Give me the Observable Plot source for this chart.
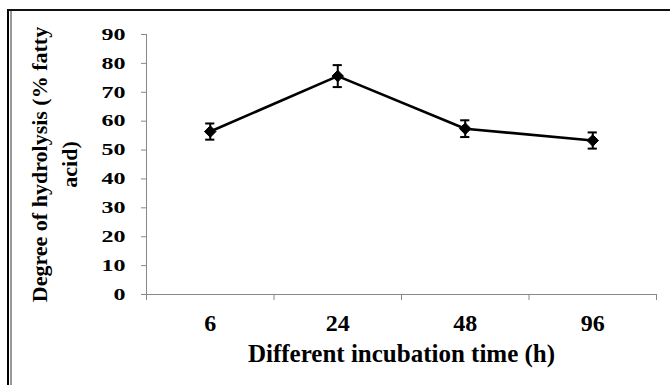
<!DOCTYPE html>
<html>
<head>
<meta charset="utf-8">
<script src="https://cdn.jsdelivr.net/npm/d3@7"></script>
<script src="https://cdn.jsdelivr.net/npm/@observablehq/plot@0.6"></script>
<style>
  html, body { margin: 0; padding: 0; background: #fff; width: 670px; height: 385px; overflow: hidden; }
  #wrap { position: relative; width: 670px; height: 385px; }
  #frameOuter { position: absolute; left: 7px; top: 9px; width: 700px; height: 400px;
    border-left: 2px solid #000; border-top: 2px solid #111; box-sizing: border-box; }
  #frameInner { position: absolute; left: 10px; top: 11px; width: 700px; height: 400px;
    border-left: 2px solid #999; box-sizing: border-box; }
  #chart { position: absolute; left: 0; top: 0; }
  #chart svg text { font-family: "Liberation Serif", "Times New Roman", serif; font-weight: bold; }
</style>
</head>
<body>
<div id="wrap">
  <div id="frameOuter"></div>
  <div id="frameInner"></div>
  <div id="chart"></div>
</div>
<script>
// ---- data ----
const categories = ["6", "24", "48", "96"];           // incubation time (h)
const hydrolysis = [56.4, 75.6, 57.4, 53.3];           // degree of hydrolysis (% fatty acid)
const errors = [2.8, 3.8, 2.9, 2.8];                   // error bar half-length
const yTicks = [0, 10, 20, 30, 40, 50, 60, 70, 80, 90];
const xTitle = "Different incubation time (h)";
const yTitle = "Degree of hydrolysis (% fatty\nacid)";

const rows = categories.map((c, i) => ({
  cat: c, pos: i + 0.5, v: hydrolysis[i], lo: hydrolysis[i] - errors[i], hi: hydrolysis[i] + errors[i]
}));
const boundaries = d3.range(categories.length + 1);
const centers = categories.map((c, i) => i + 0.5);

const serif = "Liberation Serif";
const axisGray = "#888888";
const capHalf = 0.036; // cap half width in x units

const chart = Plot.plot({
  width: 670,
  height: 385,
  marginLeft: 146,
  marginRight: 14,
  marginTop: 34,
  marginBottom: 91,
  style: { fontFamily: serif, fontWeight: "bold", color: "#000", background: "transparent" },
  x: { type: "linear", domain: [0, categories.length], axis: null },
  y: { domain: [0, 90], axis: null },
  marks: [
    // y axis
    Plot.ruleX([0], { stroke: axisGray, strokeWidth: 1 }),
    Plot.axisY({ ticks: yTicks, tickSize: 5, tickPadding: 16, stroke: axisGray, fill: "#000", fontSize: 24,
      fontFamily: serif, fontWeight: "bold", label: null }),
    // x axis
    Plot.ruleY([0], { stroke: axisGray, strokeWidth: 1 }),
    Plot.axisX({ ticks: boundaries, tickSize: 6, stroke: axisGray, tickFormat: () => "", label: null }),
    Plot.axisX({ ticks: centers, tickSize: 0, tickPadding: 19, fill: "#000", fontSize: 24, fontFamily: serif,
      fontWeight: "bold", label: null, tickFormat: d => categories[Math.floor(d)] }),
    // error bars
    Plot.ruleX(rows, { x: "pos", y1: "lo", y2: "hi", stroke: "#000", strokeWidth: 2 }),
    Plot.ruleY(rows, { y: "hi", x1: d => d.pos - capHalf, x2: d => d.pos + capHalf, stroke: "#000", strokeWidth: 2 }),
    Plot.ruleY(rows, { y: "lo", x1: d => d.pos - capHalf, x2: d => d.pos + capHalf, stroke: "#000", strokeWidth: 2 }),
    // line + markers
    Plot.line(rows, { x: "pos", y: "v", stroke: "#000", strokeWidth: 2.6 }),
    Plot.dot(rows, { x: "pos", y: "v", symbol: "diamond2", r: 5.2, fill: "#000", stroke: "#000", strokeWidth: 1 }),
    // axis titles
    Plot.text([yTitle], { text: d => d, frameAnchor: "left", textAnchor: "middle", lineAnchor: "middle", rotate: -90, dx: -94,
      fontSize: 22, lineHeight: 1.38, fill: "#000", fontFamily: serif, fontWeight: "bold" }),
    Plot.text([xTitle], { text: d => d, frameAnchor: "bottom", textAnchor: "middle", dy: 67, lineAnchor: "bottom",
      fontSize: 25, fill: "#000", fontFamily: serif, fontWeight: "bold" })
  ]
});

document.getElementById("chart").appendChild(chart);
// vertically squash the y tick labels like the reference
chart.querySelectorAll('g[aria-label="y-axis tick label"] text').forEach(t => {
  const tr = t.getAttribute("transform");
  if (tr) {
    t.setAttribute("transform", tr + " scale(1,0.68)");
  } else {
    const x = +t.getAttribute("x") || 0, y = +t.getAttribute("y") || 0;
    t.setAttribute("transform", `translate(${x},${y}) scale(1,0.68)`);
    t.setAttribute("x", 0); t.setAttribute("y", 0);
  }
});
</script>
</body>
</html>
